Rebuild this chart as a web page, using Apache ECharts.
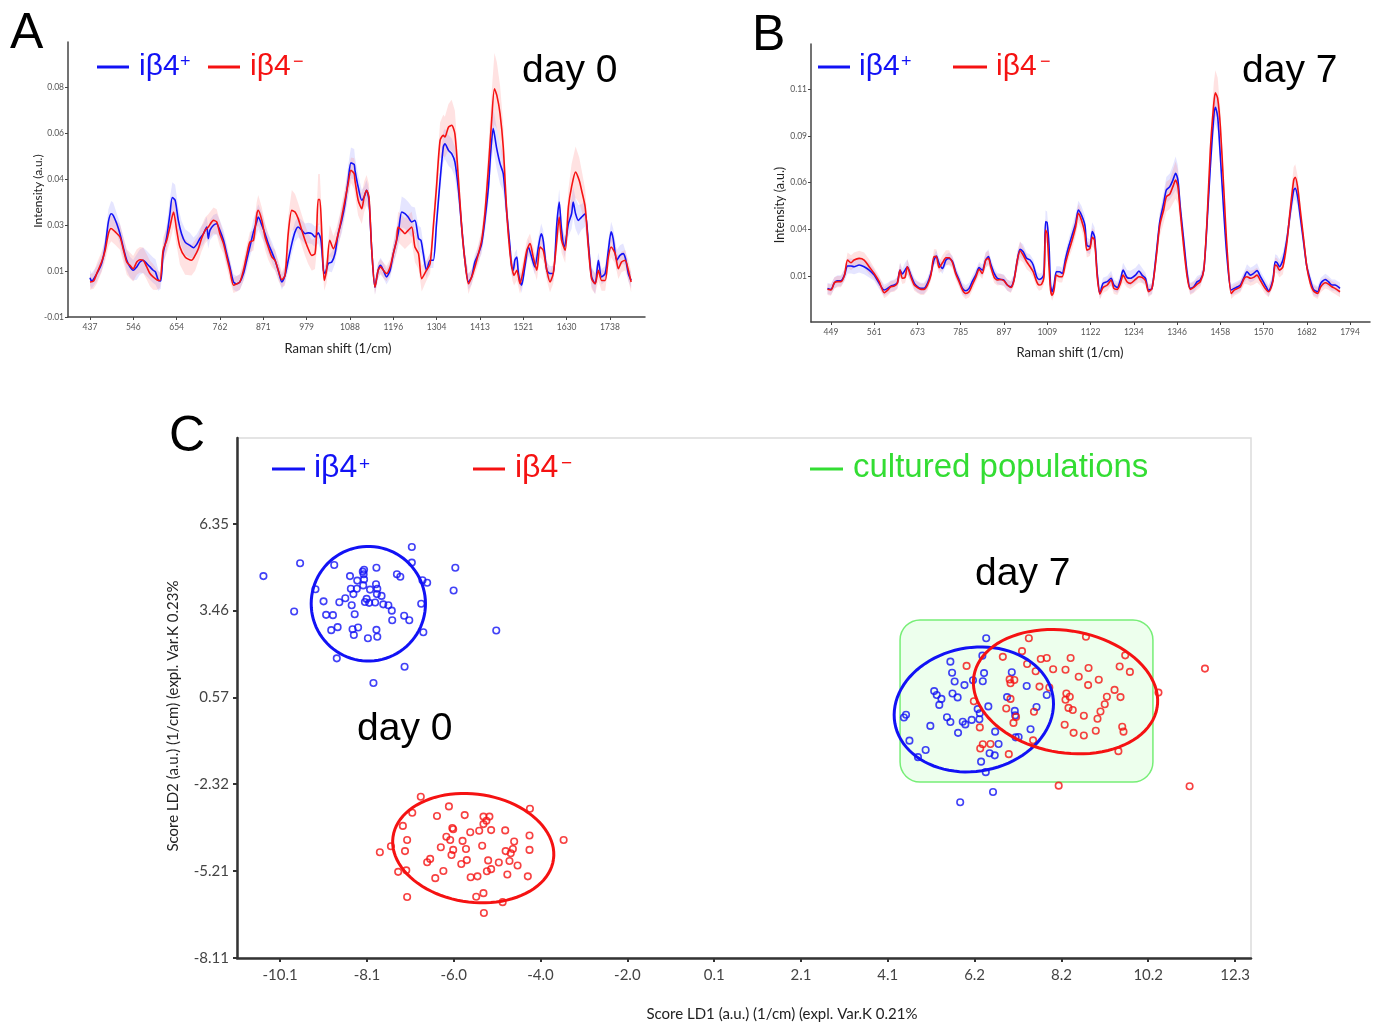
<!DOCTYPE html>
<html><head><meta charset="utf-8">
<script src="https://cdn.jsdelivr.net/npm/echarts@6/dist/echarts.min.js"></script>
<style>html,body{margin:0;padding:0;background:#fff}#c{width:1379px;height:1023px}</style>
</head><body><div id="c"></div>
<script>
// ---------- Panel A (day 0) spectra: [Raman shift, mean intensity, band half-width] ----------
var specA_pos = [[437,0.0054,0.003],[441,0.0041,0.003],[454,0.0070,0.003],[466,0.0109,0.003],[475,0.0174,0.004],[483,0.0272,0.005],[490,0.0304,0.005],[495,0.0298,0.005],[504,0.0265,0.004],[512,0.0226,0.004],[520,0.0174,0.004],[529,0.0122,0.004],[537,0.0096,0.004],[545,0.0083,0.004],[554,0.0096,0.005],[562,0.0115,0.005],[570,0.0122,0.005],[579,0.0109,0.005],[587,0.0096,0.005],[595,0.0083,0.005],[601,0.0076,0.005],[608,0.0043,0.004],[614,0.0041,0.003],[620,0.0148,0.004],[629,0.0213,0.005],[637,0.0304,0.006],[643,0.0367,0.006],[650,0.0357,0.006],[658,0.0278,0.005],[666,0.0226,0.005],[675,0.0193,0.005],[687,0.0180,0.005],[696,0.0171,0.004],[704,0.0184,0.004],[712,0.0207,0.004],[721,0.0226,0.004],[729,0.0252,0.004],[733,0.0207,0.004],[737,0.0239,0.004],[746,0.0259,0.004],[754,0.0265,0.004],[762,0.0239,0.004],[771,0.0200,0.004],[779,0.0148,0.004],[787,0.0096,0.003],[796,0.0037,0.003],[804,0.0030,0.003],[812,0.0037,0.003],[821,0.0070,0.003],[829,0.0122,0.004],[837,0.0174,0.004],[846,0.0233,0.005],[854,0.0272,0.005],[858,0.0291,0.005],[867,0.0259,0.005],[875,0.0226,0.004],[883,0.0187,0.004],[892,0.0154,0.004],[900,0.0122,0.004],[908,0.0083,0.003],[917,0.0037,0.003],[925,0.0063,0.003],[933,0.0122,0.004],[942,0.0187,0.004],[950,0.0233,0.004],[958,0.0252,0.004],[967,0.0239,0.004],[975,0.0226,0.004],[983,0.0229,0.004],[992,0.0226,0.004],[1000,0.0213,0.004],[1008,0.0229,0.004],[1015,0.0200,0.004],[1021,0.0083,0.003],[1025,0.0070,0.003],[1033,0.0109,0.003],[1042,0.0115,0.004],[1050,0.0148,0.004],[1058,0.0226,0.004],[1067,0.0278,0.005],[1075,0.0343,0.005],[1083,0.0435,0.006],[1090,0.0503,0.006],[1098,0.0497,0.006],[1100,0.0474,0.005],[1108,0.0409,0.005],[1117,0.0357,0.004],[1123,0.0370,0.004],[1129,0.0396,0.004],[1135,0.0357,0.004],[1142,0.0161,0.003],[1150,0.0017,0.003],[1158,0.0083,0.003],[1164,0.0102,0.003],[1171,0.0083,0.003],[1179,0.0057,0.003],[1188,0.0083,0.003],[1196,0.0148,0.004],[1208,0.0226,0.005],[1217,0.0311,0.006],[1225,0.0304,0.006],[1233,0.0291,0.006],[1242,0.0272,0.006],[1250,0.0278,0.005],[1259,0.0207,0.005],[1265,0.0200,0.005],[1271,0.0148,0.004],[1279,0.0083,0.003],[1288,0.0122,0.003],[1296,0.0122,0.003],[1304,0.0265,0.004],[1313,0.0435,0.005],[1321,0.0565,0.006],[1325,0.0578,0.006],[1334,0.0552,0.006],[1342,0.0539,0.006],[1350,0.0507,0.006],[1359,0.0396,0.005],[1367,0.0252,0.004],[1375,0.0122,0.003],[1384,0.0037,0.003],[1392,0.0057,0.003],[1400,0.0115,0.003],[1409,0.0148,0.003],[1417,0.0187,0.004],[1425,0.0278,0.005],[1434,0.0409,0.006],[1440,0.0552,0.007],[1446,0.0637,0.008],[1454,0.0565,0.008],[1463,0.0500,0.008],[1471,0.0461,0.007],[1480,0.0304,0.005],[1488,0.0174,0.004],[1492,0.0096,0.003],[1496,0.0083,0.003],[1500,0.0122,0.003],[1505,0.0135,0.003],[1509,0.0070,0.003],[1517,0.0024,0.003],[1525,0.0096,0.003],[1534,0.0174,0.003],[1542,0.0135,0.003],[1550,0.0096,0.003],[1559,0.0174,0.004],[1566,0.0226,0.004],[1571,0.0200,0.004],[1580,0.0083,0.003],[1588,0.0070,0.003],[1596,0.0070,0.003],[1605,0.0265,0.004],[1611,0.0350,0.005],[1617,0.0239,0.004],[1624,0.0174,0.004],[1634,0.0265,0.005],[1642,0.0304,0.006],[1646,0.0350,0.006],[1652,0.0304,0.006],[1659,0.0278,0.006],[1667,0.0291,0.005],[1676,0.0304,0.005],[1684,0.0187,0.004],[1692,0.0057,0.004],[1701,0.0030,0.004],[1709,0.0122,0.003],[1717,0.0057,0.003],[1726,0.0070,0.003],[1734,0.0161,0.004],[1741,0.0233,0.004],[1746,0.0207,0.004],[1755,0.0122,0.004],[1763,0.0141,0.004],[1771,0.0148,0.004],[1777,0.0128,0.003],[1784,0.0070,0.003],[1791,0.0043,0.003]];
var specA_neg = [[437,0.0037,0.003],[446,0.0041,0.003],[454,0.0070,0.004],[466,0.0115,0.004],[475,0.0161,0.004],[483,0.0226,0.005],[490,0.0246,0.005],[500,0.0233,0.005],[512,0.0213,0.005],[520,0.0167,0.005],[529,0.0115,0.005],[537,0.0102,0.005],[545,0.0089,0.005],[554,0.0115,0.005],[562,0.0124,0.005],[570,0.0122,0.005],[579,0.0096,0.005],[587,0.0070,0.005],[595,0.0057,0.005],[604,0.0046,0.004],[612,0.0043,0.003],[620,0.0161,0.005],[629,0.0200,0.005],[637,0.0252,0.006],[646,0.0311,0.006],[654,0.0239,0.006],[662,0.0174,0.007],[675,0.0135,0.007],[691,0.0122,0.006],[700,0.0141,0.006],[708,0.0167,0.005],[716,0.0206,0.005],[725,0.0239,0.005],[733,0.0252,0.005],[746,0.0278,0.005],[754,0.0272,0.005],[762,0.0226,0.005],[771,0.0187,0.004],[779,0.0135,0.004],[787,0.0083,0.004],[796,0.0024,0.003],[804,0.0030,0.003],[812,0.0037,0.003],[821,0.0083,0.004],[829,0.0141,0.004],[837,0.0193,0.004],[846,0.0200,0.004],[854,0.0298,0.005],[858,0.0317,0.006],[867,0.0278,0.005],[875,0.0213,0.005],[883,0.0174,0.005],[892,0.0135,0.004],[900,0.0122,0.004],[908,0.0083,0.004],[917,0.0046,0.003],[925,0.0063,0.004],[933,0.0226,0.007],[942,0.0317,0.008],[950,0.0311,0.007],[958,0.0285,0.006],[967,0.0239,0.006],[975,0.0200,0.006],[983,0.0167,0.006],[992,0.0141,0.006],[1000,0.0148,0.006],[1004,0.0233,0.008],[1008,0.0360,0.010],[1012,0.0360,0.010],[1017,0.0226,0.008],[1023,0.0043,0.004],[1029,0.0083,0.005],[1037,0.0200,0.006],[1046,0.0167,0.005],[1054,0.0200,0.005],[1062,0.0252,0.005],[1075,0.0357,0.005],[1083,0.0422,0.005],[1090,0.0474,0.005],[1098,0.0461,0.006],[1100,0.0435,0.006],[1108,0.0357,0.006],[1117,0.0324,0.006],[1123,0.0370,0.006],[1129,0.0396,0.006],[1135,0.0370,0.005],[1142,0.0161,0.004],[1150,0.0017,0.003],[1158,0.0083,0.003],[1164,0.0096,0.003],[1171,0.0083,0.003],[1179,0.0070,0.003],[1188,0.0096,0.003],[1196,0.0148,0.004],[1204,0.0200,0.005],[1208,0.0252,0.006],[1217,0.0239,0.006],[1225,0.0226,0.006],[1233,0.0239,0.006],[1242,0.0252,0.006],[1250,0.0174,0.006],[1259,0.0148,0.006],[1267,0.0050,0.005],[1279,0.0083,0.004],[1288,0.0109,0.004],[1296,0.0252,0.005],[1304,0.0409,0.006],[1313,0.0591,0.007],[1321,0.0611,0.008],[1325,0.0604,0.008],[1334,0.0643,0.009],[1342,0.0650,0.010],[1350,0.0617,0.009],[1359,0.0435,0.007],[1367,0.0252,0.005],[1375,0.0122,0.004],[1384,0.0030,0.004],[1392,0.0057,0.003],[1400,0.0096,0.003],[1409,0.0148,0.004],[1417,0.0200,0.004],[1425,0.0304,0.005],[1434,0.0487,0.008],[1442,0.0670,0.011],[1449,0.0793,0.014],[1455,0.0767,0.013],[1463,0.0696,0.011],[1471,0.0565,0.009],[1480,0.0304,0.006],[1488,0.0148,0.004],[1494,0.0083,0.004],[1498,0.0063,0.004],[1505,0.0083,0.004],[1513,0.0030,0.004],[1521,0.0083,0.004],[1530,0.0161,0.004],[1538,0.0187,0.004],[1546,0.0135,0.004],[1555,0.0083,0.004],[1563,0.0174,0.004],[1571,0.0161,0.004],[1580,0.0083,0.004],[1588,0.0037,0.004],[1596,0.0070,0.004],[1605,0.0200,0.005],[1611,0.0291,0.005],[1617,0.0200,0.005],[1626,0.0161,0.005],[1634,0.0330,0.007],[1642,0.0409,0.009],[1652,0.0467,0.010],[1661,0.0435,0.009],[1667,0.0396,0.008],[1676,0.0330,0.007],[1684,0.0174,0.005],[1692,0.0050,0.004],[1701,0.0030,0.004],[1709,0.0083,0.004],[1717,0.0043,0.004],[1726,0.0043,0.004],[1734,0.0135,0.004],[1741,0.0174,0.004],[1751,0.0148,0.004],[1759,0.0089,0.004],[1767,0.0115,0.004],[1776,0.0122,0.004],[1784,0.0083,0.004],[1791,0.0037,0.004]];

// ---------- Panel B (day 7) spectra ----------
var specB_pos = [[440,0.0034,0.003],[449,0.0029,0.003],[458,0.0064,0.003],[466,0.0075,0.003],[475,0.0075,0.003],[484,0.0105,0.003],[492,0.0154,0.004],[501,0.0154,0.004],[509,0.0150,0.004],[522,0.0159,0.004],[535,0.0150,0.004],[548,0.0132,0.004],[561,0.0105,0.003],[574,0.0061,0.003],[587,0.0025,0.003],[596,0.0034,0.003],[604,0.0046,0.003],[613,0.0052,0.003],[621,0.0064,0.003],[628,0.0132,0.004],[634,0.0111,0.003],[641,0.0132,0.004],[647,0.0150,0.004],[656,0.0105,0.003],[665,0.0061,0.003],[673,0.0043,0.003],[682,0.0034,0.003],[690,0.0034,0.003],[699,0.0061,0.003],[708,0.0114,0.003],[716,0.0186,0.003],[722,0.0207,0.003],[729,0.0168,0.003],[738,0.0141,0.003],[747,0.0186,0.003],[755,0.0195,0.003],[764,0.0177,0.003],[772,0.0123,0.003],[781,0.0079,0.003],[790,0.0034,0.003],[798,0.0021,0.003],[807,0.0034,0.003],[815,0.0070,0.003],[824,0.0105,0.003],[833,0.0145,0.003],[841,0.0132,0.003],[850,0.0186,0.004],[857,0.0204,0.004],[863,0.0164,0.003],[872,0.0114,0.003],[880,0.0088,0.003],[889,0.0082,0.003],[897,0.0079,0.003],[906,0.0052,0.003],[915,0.0043,0.003],[923,0.0079,0.003],[932,0.0186,0.004],[939,0.0243,0.004],[947,0.0230,0.004],[956,0.0195,0.003],[965,0.0186,0.003],[973,0.0159,0.003],[982,0.0096,0.003],[988,0.0082,0.003],[995,0.0088,0.003],[1001,0.0114,0.004],[1005,0.0391,0.006],[1009,0.0386,0.006],[1014,0.0264,0.005],[1018,0.0052,0.003],[1022,0.0016,0.003],[1027,0.0052,0.003],[1033,0.0123,0.003],[1041,0.0123,0.003],[1048,0.0114,0.003],[1057,0.0195,0.004],[1066,0.0266,0.004],[1074,0.0320,0.005],[1083,0.0382,0.005],[1090,0.0454,0.005],[1098,0.0427,0.005],[1107,0.0373,0.005],[1112,0.0266,0.004],[1120,0.0257,0.004],[1126,0.0338,0.005],[1132,0.0311,0.005],[1139,0.0114,0.003],[1146,0.0007,0.003],[1154,0.0061,0.003],[1165,0.0070,0.003],[1175,0.0088,0.004],[1182,0.0052,0.003],[1191,0.0039,0.003],[1199,0.0079,0.003],[1206,0.0132,0.004],[1216,0.0093,0.004],[1225,0.0088,0.004],[1238,0.0105,0.004],[1247,0.0127,0.004],[1255,0.0105,0.004],[1264,0.0088,0.003],[1272,0.0025,0.003],[1281,0.0034,0.003],[1292,0.0221,0.004],[1301,0.0391,0.005],[1311,0.0489,0.006],[1318,0.0561,0.007],[1327,0.0579,0.007],[1335,0.0614,0.008],[1342,0.0650,0.009],[1348,0.0614,0.008],[1354,0.0471,0.006],[1363,0.0293,0.005],[1372,0.0114,0.004],[1380,0.0034,0.003],[1389,0.0043,0.003],[1398,0.0070,0.003],[1406,0.0079,0.003],[1415,0.0132,0.003],[1423,0.0364,0.004],[1432,0.0686,0.006],[1441,0.0954,0.008],[1445,0.1004,0.009],[1451,0.0954,0.008],[1458,0.0739,0.006],[1467,0.0436,0.004],[1475,0.0204,0.003],[1486,0.0025,0.003],[1494,0.0034,0.003],[1503,0.0043,0.003],[1510,0.0052,0.003],[1520,0.0096,0.003],[1527,0.0123,0.004],[1536,0.0105,0.004],[1544,0.0114,0.004],[1553,0.0129,0.004],[1561,0.0100,0.003],[1574,0.0052,0.003],[1583,0.0021,0.003],[1594,0.0079,0.003],[1600,0.0177,0.004],[1605,0.0171,0.004],[1611,0.0150,0.004],[1620,0.0186,0.004],[1630,0.0293,0.004],[1639,0.0436,0.005],[1648,0.0561,0.006],[1652,0.0570,0.006],[1658,0.0525,0.005],[1665,0.0418,0.005],[1673,0.0293,0.004],[1682,0.0150,0.003],[1691,0.0079,0.003],[1699,0.0029,0.003],[1710,0.0016,0.003],[1718,0.0061,0.003],[1730,0.0082,0.003],[1738,0.0070,0.003],[1747,0.0052,0.003],[1755,0.0052,0.003],[1768,0.0034,0.003]];
var specB_neg = [[440,0.0029,0.003],[449,0.0025,0.003],[458,0.0064,0.003],[466,0.0070,0.003],[475,0.0070,0.003],[484,0.0105,0.003],[492,0.0186,0.004],[501,0.0171,0.004],[509,0.0186,0.004],[522,0.0195,0.004],[535,0.0186,0.004],[548,0.0150,0.004],[561,0.0114,0.003],[574,0.0070,0.003],[587,0.0011,0.003],[596,0.0025,0.003],[604,0.0043,0.003],[613,0.0046,0.003],[621,0.0061,0.003],[628,0.0132,0.004],[634,0.0088,0.003],[641,0.0093,0.003],[647,0.0150,0.004],[656,0.0096,0.003],[665,0.0052,0.003],[673,0.0039,0.003],[682,0.0029,0.003],[690,0.0029,0.003],[699,0.0052,0.003],[708,0.0105,0.003],[716,0.0204,0.004],[722,0.0204,0.004],[729,0.0145,0.003],[738,0.0171,0.004],[747,0.0198,0.004],[755,0.0198,0.004],[764,0.0171,0.003],[772,0.0114,0.003],[781,0.0070,0.003],[790,0.0025,0.003],[798,0.0007,0.003],[807,0.0016,0.003],[815,0.0052,0.003],[824,0.0093,0.003],[833,0.0136,0.003],[841,0.0114,0.003],[850,0.0186,0.004],[857,0.0195,0.004],[863,0.0150,0.003],[872,0.0093,0.003],[880,0.0079,0.003],[889,0.0082,0.003],[897,0.0075,0.003],[906,0.0052,0.003],[915,0.0039,0.003],[923,0.0075,0.003],[932,0.0186,0.005],[939,0.0236,0.005],[947,0.0213,0.004],[956,0.0177,0.004],[965,0.0150,0.003],[973,0.0123,0.003],[982,0.0070,0.003],[988,0.0052,0.003],[995,0.0057,0.003],[1001,0.0096,0.004],[1005,0.0346,0.006],[1009,0.0329,0.006],[1014,0.0150,0.004],[1018,0.0025,0.003],[1022,-0.0002,0.003],[1027,0.0025,0.003],[1033,0.0105,0.003],[1041,0.0096,0.003],[1048,0.0096,0.003],[1057,0.0171,0.004],[1066,0.0239,0.004],[1074,0.0293,0.005],[1083,0.0364,0.005],[1090,0.0436,0.005],[1098,0.0400,0.005],[1107,0.0329,0.005],[1112,0.0239,0.004],[1120,0.0248,0.004],[1126,0.0307,0.005],[1132,0.0293,0.005],[1139,0.0096,0.003],[1146,0.0004,0.003],[1154,0.0039,0.003],[1165,0.0052,0.003],[1175,0.0079,0.003],[1182,0.0034,0.003],[1191,0.0029,0.003],[1199,0.0061,0.003],[1206,0.0105,0.004],[1216,0.0070,0.003],[1225,0.0061,0.003],[1238,0.0082,0.003],[1247,0.0096,0.003],[1255,0.0093,0.003],[1264,0.0075,0.003],[1272,0.0016,0.003],[1281,0.0034,0.003],[1292,0.0204,0.004],[1301,0.0373,0.006],[1311,0.0454,0.007],[1318,0.0525,0.008],[1327,0.0539,0.008],[1335,0.0579,0.009],[1342,0.0614,0.010],[1348,0.0579,0.009],[1354,0.0445,0.007],[1363,0.0257,0.005],[1372,0.0096,0.004],[1380,0.0029,0.003],[1389,0.0039,0.003],[1398,0.0057,0.003],[1406,0.0070,0.003],[1415,0.0132,0.003],[1423,0.0382,0.005],[1432,0.0775,0.008],[1441,0.1025,0.011],[1445,0.1082,0.012],[1451,0.1052,0.011],[1458,0.0900,0.009],[1467,0.0561,0.006],[1475,0.0257,0.004],[1486,0.0007,0.003],[1494,0.0025,0.003],[1503,0.0034,0.003],[1510,0.0043,0.003],[1520,0.0088,0.003],[1527,0.0096,0.004],[1536,0.0088,0.004],[1544,0.0093,0.004],[1553,0.0105,0.004],[1561,0.0079,0.003],[1574,0.0034,0.003],[1583,0.0016,0.003],[1594,0.0070,0.003],[1600,0.0159,0.004],[1605,0.0154,0.004],[1611,0.0132,0.004],[1620,0.0150,0.004],[1630,0.0275,0.005],[1639,0.0454,0.006],[1648,0.0614,0.007],[1652,0.0629,0.007],[1658,0.0579,0.006],[1665,0.0454,0.005],[1673,0.0311,0.004],[1682,0.0150,0.003],[1691,0.0061,0.003],[1699,0.0021,0.003],[1710,0.0007,0.003],[1718,0.0043,0.003],[1730,0.0064,0.003],[1738,0.0057,0.003],[1747,0.0043,0.003],[1755,0.0034,0.003],[1768,0.0016,0.003]];

// ---------- Panel C scores [LD1, LD2] ----------
var day0_pos = [[-10.51,4.61],[-9.65,5.04],[-8.85,4.98],[-8.15,4.82],[-8.18,4.76],[-8.16,4.67],[-7.86,4.89],[-7.03,5.58],[-7.03,5.06],[-6.01,4.89],[-8.48,4.61],[-8.31,4.46],[-8.15,4.50],[-7.38,4.67],[-7.30,4.59],[-6.78,4.47],[-6.67,4.39],[-9.29,4.17],[-8.46,4.19],[-8.32,4.19],[-8.40,4.01],[-8.17,4.30],[-8.01,4.16],[-7.87,4.34],[-7.84,4.19],[-7.85,4.01],[-7.74,3.95],[-6.05,4.13],[-9.10,3.77],[-8.73,3.74],[-8.59,3.87],[-8.44,3.64],[-8.13,3.75],[-8.09,3.85],[-8.03,3.72],[-7.89,3.73],[-7.70,3.67],[-7.58,3.64],[-7.50,3.46],[-6.81,3.69],[-9.79,3.43],[-9.04,3.32],[-8.88,3.31],[-8.37,3.34],[-7.21,3.29],[-7.09,3.14],[-7.49,3.14],[-8.92,2.81],[-8.77,2.91],[-8.42,2.84],[-8.29,2.90],[-8.39,2.65],[-7.86,2.82],[-8.06,2.54],[-7.84,2.59],[-6.76,2.74],[-5.05,2.80],[-8.79,1.87],[-7.20,1.59],[-7.93,1.05]];
var day0_neg = [[-6.82,-2.74],[-6.16,-3.06],[-7.02,-3.27],[-6.44,-3.38],[-5.79,-3.35],[-5.35,-3.40],[-5.21,-3.40],[-4.26,-3.14],[-7.24,-3.71],[-6.08,-3.78],[-6.06,-3.82],[-5.35,-3.65],[-5.28,-3.54],[-5.45,-3.87],[-5.66,-3.92],[-5.17,-3.85],[-4.84,-3.86],[-7.14,-4.18],[-6.22,-4.07],[-6.13,-4.18],[-5.84,-4.21],[-4.27,-4.03],[-7.52,-4.39],[-6.35,-4.42],[-6.06,-4.51],[-5.76,-4.48],[-5.38,-4.37],[-4.63,-4.23],[-4.66,-4.48],[-3.47,-4.18],[-7.78,-4.59],[-7.19,-4.55],[-6.10,-4.68],[-4.83,-4.55],[-4.71,-4.62],[-4.27,-4.51],[-6.60,-4.81],[-6.67,-4.92],[-5.87,-4.98],[-5.74,-4.85],[-5.24,-4.86],[-4.99,-4.93],[-4.74,-4.88],[-4.55,-5.03],[-7.35,-5.24],[-7.16,-5.19],[-6.29,-5.21],[-5.27,-5.22],[-5.17,-5.15],[-6.48,-5.45],[-5.65,-5.42],[-5.49,-5.39],[-4.79,-5.33],[-4.31,-5.39],[-7.14,-6.08],[-5.52,-6.07],[-5.35,-5.95],[-4.90,-6.25],[-5.34,-6.61]];
var day7_pos = [[6.44,2.54],[6.35,1.96],[5.60,1.76],[5.64,1.39],[6.39,1.38],[7.04,1.41],[5.70,1.10],[6.13,1.14],[6.36,1.11],[5.93,0.98],[7.39,0.95],[5.22,0.78],[5.28,0.65],[5.65,0.70],[5.77,0.57],[5.39,0.52],[5.34,0.32],[6.93,0.58],[7.86,0.65],[6.49,0.27],[6.24,0.18],[6.29,0.04],[7.11,0.12],[7.62,0.25],[4.56,-0.01],[4.51,-0.10],[5.52,-0.09],[5.60,-0.25],[5.89,-0.24],[5.95,-0.33],[6.10,-0.18],[6.28,-0.16],[7.12,-0.03],[5.13,-0.38],[7.48,-0.49],[5.78,-0.61],[6.65,-0.57],[7.13,-0.76],[7.20,-0.75],[4.64,-0.87],[5.02,-1.18],[6.73,-0.98],[6.52,-1.29],[6.64,-1.36],[4.84,-1.42],[6.32,-1.57],[6.43,-1.92],[6.60,-2.58],[5.83,-2.92]];
var day7_neg = [[7.44,2.54],[8.78,2.59],[7.28,2.11],[6.83,1.92],[7.72,1.85],[7.86,1.88],[8.42,1.88],[5.98,1.62],[7.40,1.68],[7.60,1.44],[8.01,1.51],[8.30,1.49],[8.84,1.55],[9.57,1.60],[9.70,1.97],[9.81,1.42],[6.99,1.17],[7.10,1.15],[7.01,1.04],[8.61,1.26],[9.08,1.16],[7.69,0.93],[7.92,0.90],[8.83,0.98],[8.32,0.70],[8.40,0.59],[9.45,0.82],[9.59,0.58],[9.27,0.59],[7.01,0.52],[6.15,0.44],[8.30,0.49],[9.22,0.34],[6.91,0.20],[8.37,0.22],[8.47,0.15],[9.12,0.10],[7.56,0.09],[7.14,-0.08],[8.73,-0.04],[9.05,-0.14],[7.08,-0.28],[6.29,-0.43],[8.28,-0.34],[9.63,-0.41],[9.66,-0.57],[8.49,-0.61],[8.73,-0.70],[9.01,-0.54],[7.54,-0.86],[6.36,-0.99],[6.54,-0.98],[6.30,-1.13],[6.97,-1.32],[9.54,-1.22],[11.57,1.53],[10.48,0.73],[8.14,-2.37],[11.21,-2.39]];
// confidence ellipses: [centre LD1, centre LD2, radius LD1, radius LD2, tilt deg]
var ellipses_pos = [[-8.05,3.69,1.34,1.91,0],[6.15,0.17,1.88,2.06,10]];
var ellipses_neg = [[-5.59,-4.45,1.90,1.80,-8],[8.30,0.76,2.18,2.03,-10]];
// cultured populations box: [LD1 min, LD2 min, LD1 max, LD2 max]
var culturedBox = [[4.42,-2.25,10.35,3.15]];

// ---------- tick values / labels ----------
var xTickA = [437,545.4,653.8,762.3,870.7,979.1,1087.5,1195.9,1304.3,1412.8,1521.2,1629.6,1738];
var xLabA = ['437','546','654','762','871','979','1088','1196','1304','1413','1521','1630','1738'];
var yTickA = [-0.01,0.008,0.026,0.044,0.062,0.08];
var yLabA = ['-0.01','0.01','0.03','0.04','0.06','0.08'];
var xTickB = [449,561.1,673.2,785.2,897.3,1009.4,1121.5,1233.6,1345.6,1457.7,1569.8,1681.9,1794];
var xLabB = ['449','561','673','785','897','1009','1122','1234','1346','1458','1570','1682','1794'];
var yTickB = [0.01,0.035,0.06,0.085,0.11];
var yLabB = ['0.01','0.04','0.06','0.09','0.11'];
var xTickC = [-10.12,-8.084,-6.048,-4.012,-1.976,0.06,2.096,4.132,6.168,8.204,10.24,12.276];
var xLabC = ['-10.1','-8.1','-6.0','-4.0','-2.0','0.1','2.1','4.1','6.2','8.2','10.2','12.3'];
var yTickC = [6.35,3.46,0.57,-2.32,-5.21,-8.11];
var yLabC = ['6.35','3.46','0.57','-2.32','-5.21','-8.11'];

var BLUE = '#1212f5', RED = '#f51212', GREEN = '#33dd33';

function lab(vals, labels){
  return function(v){ var b=0; for (var i=1;i<vals.length;i++){ if (Math.abs(vals[i]-v) < Math.abs(vals[b]-v)) b=i; } return labels[b]; };
}
function band(arr, fill){
  return function(params, api){
    var pts=[], i;
    for (i=0;i<arr.length;i++) pts.push(api.coord([arr[i][0], arr[i][1]+arr[i][2]]));
    for (i=arr.length-1;i>=0;i--) pts.push(api.coord([arr[i][0], arr[i][1]-arr[i][2]]));
    return {type:'polygon', shape:{points:pts}, style:{fill:fill}};
  };
}
function ellipseRender(color){
  return function(params, api){
    var c = api.coord([api.value(0), api.value(1)]);
    var s = api.size([api.value(2), api.value(3)]);
    var a = api.value(4)*Math.PI/180, pts=[];
    for (var k=0;k<=90;k++){
      var t=k/90*2*Math.PI, ex=s[0]*Math.cos(t), ey=s[1]*Math.sin(t);
      pts.push([c[0]+ex*Math.cos(a)+ey*Math.sin(a), c[1]-ex*Math.sin(a)+ey*Math.cos(a)]);
    }
    return {type:'polyline', shape:{points:pts}, style:{stroke:color, lineWidth:3, fill:null}};
  };
}
function xy(arr){ return arr.map(function(p){ return [p[0], p[1]]; }); }

var smallAxis = function(grid, min, max, ticks, labels, isX){
  return {
    type:'value', gridIndex:grid, min:min, max:max, splitLine:{show:false},
    axisLine:{show:true, onZero:false, lineStyle:{color:'#444', width:1.5}},
    axisTick:{show:true, customValues:ticks, length:3, lineStyle:{color:'#444'}},
    axisLabel:{customValues:ticks, formatter:lab(ticks, labels), fontSize:8.5, color:'#555', fontFamily:'Lato', margin: isX?6:4}
  };
};
var bigAxis = function(min, max, ticks, labels, isX){
  return {
    type:'value', gridIndex:2, min:min, max:max, splitLine:{show:false},
    axisLine:{show:true, onZero:false, lineStyle:{color:'#333', width:2.5}},
    axisTick:{show:true, customValues:ticks, length:4, lineStyle:{color:'#333', width:2}},
    axisLabel:{customValues:ticks, formatter:lab(ticks, labels), fontSize:15, color:'#444', fontFamily:'Lato', margin: isX?10:8}
  };
};

// text helper: y is the baseline unless valign 'middle' is given
function T(text, x, y, size, color, opts){
  opts = opts || {};
  var va = opts.valign || 'top';
  var yy = (va === 'top') ? y - 0.77*size : y;
  var e = {type:'text', x:x, y:yy, style:{text:text, font:size+'px '+(opts.family||'"Liberation Sans", Arial, sans-serif'), fill:color, textAlign:opts.align||'left', textVerticalAlign:va}, z:100};
  if (opts.rotation) e.rotation = opts.rotation;
  return e;
}
function L(x1,x2,y,color){ return {type:'line', shape:{x1:x1,y1:y,x2:x2,y2:y}, style:{stroke:color, lineWidth:3}, z:100}; }

var graphics = [
  T('A', 10, 48, 50, '#000'), T('B', 752, 50, 50, '#000'), T('C', 169, 451, 50, '#000'),
  // legend A
  L(97,129,67,BLUE), T('iβ4', 139, 75, 30, BLUE), T('+', 180, 67, 18, BLUE),
  L(208,240,67,RED), T('iβ4', 250, 75, 30, RED), T('−', 293, 67, 18, RED),
  T('day 0', 522, 82, 39, '#000'),
  // legend B
  L(818,850,67,BLUE), T('iβ4', 859, 75, 30, BLUE), T('+', 901, 67, 18, BLUE),
  L(953,987,67,RED), T('iβ4', 996, 75, 30, RED), T('−', 1040, 67, 18, RED),
  T('day 7', 1242, 82, 39, '#000'),
  // legend C
  L(272,305,469,BLUE), T('iβ4', 314, 477, 32, BLUE), T('+', 359, 470, 19, BLUE),
  L(473,505,469,RED), T('iβ4', 515, 477, 32, RED), T('−', 561, 469, 19, RED),
  L(810,843,469,GREEN), T('cultured populations', 853, 477, 33, GREEN),
  T('day 0', 357, 740, 39, '#000'), T('day 7', 975, 585, 39, '#000'),
  // axis names
  T('Intensity (a.u.)', 38, 191, 12, '#222', {family:'Lato', align:'center', valign:'middle', rotation:Math.PI/2}),
  T('Raman shift (1/cm)', 338, 349, 13, '#222', {family:'Lato', align:'center', valign:'middle'}),
  T('Intensity (a.u.)', 780, 205, 12.5, '#222', {family:'Lato', align:'center', valign:'middle', rotation:Math.PI/2}),
  T('Raman shift (1/cm)', 1070, 353, 13, '#222', {family:'Lato', align:'center', valign:'middle'}),
  T('Score LD2 (a.u.) (1/cm) (expl. Var.K 0.23%', 173, 716, 15, '#222', {family:'Lato', align:'center', valign:'middle', rotation:Math.PI/2}),
  T('Score LD1 (a.u.) (1/cm) (expl. Var.K 0.21%', 782, 1014, 15, '#222', {family:'Lato', align:'center', valign:'middle'})
];

var option = {
  animation:false,
  backgroundColor:'#fff',
  grid:[
    {left:68, top:42, width:577, height:275},
    {left:811, top:44, width:559, height:278},
    {left:237, top:438, width:1014, height:520, show:true, borderColor:'#dcdcdc', borderWidth:1.5, backgroundColor:'transparent'}
  ],
  xAxis:[
    smallAxis(0, 381.95, 1825.7, xTickA, xLabA, true),
    smallAxis(1, 397.3, 1845.7, xTickB, xLabB, true),
    bigAxis(-11.13, 12.65, xTickC, xLabC, true)
  ],
  yAxis:[
    smallAxis(0, -0.01, 0.0976, yTickA, yLabA, false),
    smallAxis(1, -0.0146, 0.1343, yTickB, yLabB, false),
    bigAxis(-8.11, 9.21, yTickC, yLabC, false)
  ],
  graphic:{elements:graphics},
  series:[
    {type:'custom', xAxisIndex:0, yAxisIndex:0, data:[[437,0]], renderItem:band(specA_pos,'rgba(110,110,255,0.18)'), z:1, silent:true},
    {type:'custom', xAxisIndex:0, yAxisIndex:0, data:[[437,0]], renderItem:band(specA_neg,'rgba(255,110,110,0.2)'), z:1, silent:true},
    {type:'line', xAxisIndex:0, yAxisIndex:0, data:xy(specA_pos), showSymbol:false, smooth:0.25, lineStyle:{color:BLUE, width:1.6}, z:3},
    {type:'line', xAxisIndex:0, yAxisIndex:0, data:xy(specA_neg), showSymbol:false, smooth:0.25, lineStyle:{color:RED, width:1.6}, z:4},
    {type:'custom', xAxisIndex:1, yAxisIndex:1, data:[[449,0]], renderItem:band(specB_pos,'rgba(110,110,255,0.18)'), z:1, silent:true},
    {type:'custom', xAxisIndex:1, yAxisIndex:1, data:[[449,0]], renderItem:band(specB_neg,'rgba(255,110,110,0.2)'), z:1, silent:true},
    {type:'line', xAxisIndex:1, yAxisIndex:1, data:xy(specB_pos), showSymbol:false, smooth:0.25, lineStyle:{color:BLUE, width:1.6}, z:3},
    {type:'line', xAxisIndex:1, yAxisIndex:1, data:xy(specB_neg), showSymbol:false, smooth:0.25, lineStyle:{color:RED, width:1.6}, z:4},
    {type:'custom', xAxisIndex:2, yAxisIndex:2, data:culturedBox, z:1, silent:true,
      renderItem:function(params, api){
        var p1 = api.coord([api.value(0), api.value(3)]), p2 = api.coord([api.value(2), api.value(1)]);
        return {type:'rect', shape:{x:p1[0], y:p1[1], width:p2[0]-p1[0], height:p2[1]-p1[1], r:20}, style:{fill:'rgba(215,255,215,0.45)', stroke:'#77ee77', lineWidth:1.5}};
      }},
    {type:'scatter', xAxisIndex:2, yAxisIndex:2, data:day0_pos, symbol:'circle', symbolSize:6.5, itemStyle:{color:'rgba(0,0,0,0)', borderColor:BLUE, borderWidth:1.6}, z:3},
    {type:'scatter', xAxisIndex:2, yAxisIndex:2, data:day7_pos, symbol:'circle', symbolSize:6.5, itemStyle:{color:'rgba(0,0,0,0)', borderColor:BLUE, borderWidth:1.6}, z:3},
    {type:'scatter', xAxisIndex:2, yAxisIndex:2, data:day0_neg, symbol:'circle', symbolSize:6.5, itemStyle:{color:'rgba(0,0,0,0)', borderColor:RED, borderWidth:1.6}, z:3},
    {type:'scatter', xAxisIndex:2, yAxisIndex:2, data:day7_neg, symbol:'circle', symbolSize:6.5, itemStyle:{color:'rgba(0,0,0,0)', borderColor:RED, borderWidth:1.6}, z:3},
    {type:'custom', xAxisIndex:2, yAxisIndex:2, data:ellipses_pos, renderItem:ellipseRender(BLUE), z:5, silent:true},
    {type:'custom', xAxisIndex:2, yAxisIndex:2, data:ellipses_neg, renderItem:ellipseRender(RED), z:5, silent:true}
  ]
};
var chart = echarts.init(document.getElementById('c'), null, {renderer:'canvas'});
chart.setOption(option);
</script></body></html>
